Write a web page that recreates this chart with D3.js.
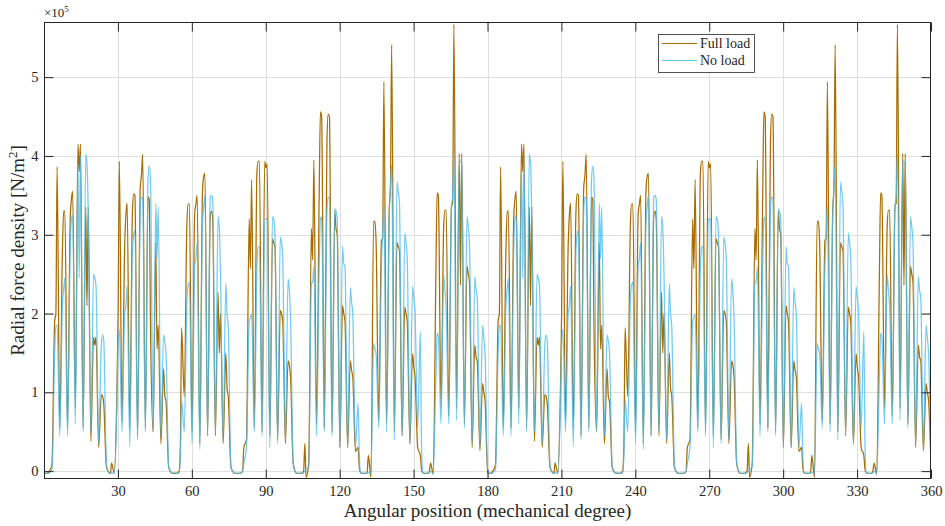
<!DOCTYPE html>
<html>
<head>
<meta charset="utf-8">
<script src="https://cdn.jsdelivr.net/npm/d3@7"></script>
<style>
  body { margin: 0; background: #fff; }
  svg { display: block; }
  text { font-family: "Liberation Serif", "DejaVu Serif", serif; fill: #262626; }
</style>
</head>
<body>
<svg id="chart" width="945" height="526"></svg>
<script>
// Axis ticks and labels
const xTicks = [30, 60, 90, 120, 150, 180, 210, 240, 270, 300, 330, 360];
const yTicks = [0, 1, 2, 3, 4, 5];
const seriesNames = ["Full load", "No load"];

// Stator slotting: 114 slots over 360 degrees, first slot centre in degrees
const slotCount = 114;
const firstSlotCenter = 1.66;

// Radial force density (x1e5 N/m^2), 4 samples per slot:
// [slot opening before the tooth, tooth left, tooth centre, tooth right]
const fullLoad = [
  -0.02,-0.03,-0.02,0.0, 0.08,1.9,2.0,3.86, 0.56,2.8,3.3,3.3, 0.55,3.2,3.45,3.55, 0.8,4.15,3.8,4.15, 0.55,3.35,2.1,3.35, 0.38,1.7,1.6,1.7, 0.3,0.97,0.95,0.85,
  0.05,-0.02,-0.03,0.1, -0.02,1.0,2.0,3.93, 0.64,2.85,3.25,3.4, 0.55,3.3,3.52,3.5, 0.45,3.6,3.75,4.02, 0.55,3.48,3.45,1.88, 0.5,2.9,1.55,1.85, 0.35,1.3,0.95,0.88,
  0.05,-0.02,-0.03,-0.03, -0.03,0.0,0.3,1.82, 0.95,3.15,3.39,3.39, 0.5,3.28,3.39,3.5, 0.35,3.55,3.74,3.78, 0.45,3.24,3.3,3.2, 0.45,2.27,1.5,2.0, 0.35,1.5,1.05,0.95,
  0.05,-0.02,-0.03,-0.03, -0.03,-0.02,0.0,0.3, 0.4,3.2,2.57,3.7, 0.55,3.8,3.93,3.93, 0.5,3.93,3.85,3.9, 0.45,2.95,2.9,2.85, 0.4,2.04,2.0,1.9, 0.35,1.4,1.35,1.2,
  0.1,-0.02,-0.03,-0.03, -0.03,0.0,0.35,-0.08, 0.1,3.08,2.68,3.95, 0.6,3.5,4.56,4.5, 0.55,4.2,4.53,4.5, 0.5,3.3,3.08,3.0, 0.3,2.1,2.0,1.9, 0.3,1.4,1.28,1.2,
  0.25,0.3,0.05,-0.02, -0.03,-0.03,-0.02,0.2, -0.08,3.17,3.17,2.9, 0.64,2.93,2.95,4.94, 0.6,3.3,3.6,5.41, 0.5,2.9,2.85,2.8, 0.45,2.08,2.0,1.9, 0.35,1.49,1.32,1.2,
  0.3,0.2,0.02,-0.02, -0.03,-0.03,0.0,0.1, -0.04,2.5,3.53,3.5, 0.8,3.1,3.31,3.31, 0.7,3.36,3.4,5.67, 0.8,4.03,2.36,4.03, 0.6,2.6,2.5,2.4, 0.3,1.6,1.45,1.4,
  0.26,1.11,1.0,0.9,
  -0.02,-0.03,-0.02,0.0, 0.08,1.9,2.0,3.86, 0.56,2.8,3.3,3.3, 0.55,3.2,3.45,3.55, 0.8,4.15,3.8,4.15, 0.55,3.35,2.1,3.35, 0.38,1.7,1.6,1.7, 0.3,0.97,0.95,0.85,
  0.05,-0.02,-0.03,0.1, -0.02,1.0,2.0,3.93, 0.64,2.85,3.25,3.4, 0.55,3.3,3.52,3.5, 0.45,3.6,3.75,4.02, 0.55,3.48,3.45,1.88, 0.5,2.9,1.55,1.85, 0.35,1.3,0.95,0.88,
  0.05,-0.02,-0.03,-0.03, -0.03,0.0,0.3,1.82, 0.95,3.15,3.39,3.39, 0.5,3.28,3.39,3.5, 0.35,3.55,3.74,3.78, 0.45,3.24,3.3,3.2, 0.45,2.27,1.5,2.0, 0.35,1.5,1.05,0.95,
  0.05,-0.02,-0.03,-0.03, -0.03,-0.02,0.0,0.3, 0.4,3.2,2.57,3.7, 0.55,3.8,3.93,3.93, 0.5,3.93,3.85,3.9, 0.45,2.95,2.9,2.85, 0.4,2.04,2.0,1.9, 0.35,1.4,1.35,1.2,
  0.1,-0.02,-0.03,-0.03, -0.03,0.0,0.35,-0.08, 0.1,3.08,2.68,3.95, 0.6,3.5,4.56,4.5, 0.55,4.2,4.53,4.5, 0.5,3.3,3.08,3.0, 0.3,2.1,2.0,1.9, 0.3,1.4,1.28,1.2,
  0.25,0.3,0.05,-0.02, -0.03,-0.03,-0.02,0.2, -0.08,3.17,3.17,2.9, 0.64,2.93,2.95,4.94, 0.6,3.3,3.6,5.41, 0.5,2.9,2.85,2.8, 0.45,2.08,2.0,1.9, 0.35,1.49,1.32,1.2,
  0.3,0.2,0.02,-0.02, -0.03,-0.03,0.0,0.1, -0.04,2.5,3.53,3.5, 0.8,3.1,3.31,3.31, 0.7,3.36,3.4,5.67, 0.8,4.03,2.36,4.03, 0.6,2.6,2.5,2.4, 0.3,1.6,1.45,1.4,
  0.26,1.11,1.0,0.9,
  -0.02
];

const noLoad = [
  -0.02,-0.03,-0.03,-0.02, 0.02,1.5,1.85,1.85, 0.45,2.1,2.3,2.45, 0.45,2.8,3.2,3.25, 0.6,3.9,2.45,4.0, 0.5,4.03,3.9,3.3, 0.5,2.5,2.45,2.35, 0.35,1.6,1.73,1.65,
  0.08,-0.02,-0.03,-0.02, -0.03,0.8,1.6,1.8, 0.5,2.0,2.1,2.35, 0.31,2.8,3.0,3.06, 0.4,3.3,3.48,3.45, 0.5,3.7,3.87,3.7, 0.5,3.4,2.7,3.35, 0.45,1.73,1.65,1.5,
  0.05,-0.02,-0.03,-0.02, -0.03,-0.02,0.2,0.9, 0.5,2.17,2.36,2.4, 0.35,2.6,2.7,2.9, 0.28,3.15,3.35,3.5, 0.45,3.48,3.5,3.45, 0.5,3.23,3.1,2.5, 0.4,2.38,2.0,1.83,
  0.05,-0.02,-0.03,-0.03, -0.03,-0.02,0.0,0.1, 0.3,1.9,1.95,2.0, 0.5,2.6,2.85,2.85, 0.45,3.2,3.2,3.19, 0.3,3.23,3.2,3.0, 0.35,2.97,2.9,2.7, 0.4,2.44,2.3,1.96,
  0.1,-0.02,-0.03,-0.03, -0.03,-0.02,0.0,0.02, 0.05,2.38,2.4,2.6, 0.45,2.6,3.2,3.23, 0.5,3.3,3.48,3.45, 0.45,3.33,3.3,3.2, 0.3,2.85,2.63,2.6, 0.3,2.33,2.15,2.0,
  0.3,0.86,0.2,-0.02, -0.03,-0.03,-0.02,-0.02, -0.02,1.62,1.55,1.49, 0.55,2.6,3.0,3.36, 0.5,3.23,3.6,3.89, 0.4,3.67,3.55,3.4, 0.45,3.02,2.9,2.7, 0.35,2.34,2.2,2.04,
  0.55,1.77,0.3,-0.02, -0.03,-0.03,-0.02,0.0, -0.03,1.2,1.75,1.7, 0.6,2.49,2.3,2.08, 0.6,3.36,3.5,4.03, 0.65,3.93,3.93,3.9, 0.55,3.23,3.1,2.9, 0.35,2.47,2.3,2.2,
  0.3,1.85,1.7,1.5,
  -0.02,-0.03,-0.03,-0.02, 0.02,1.5,1.85,1.85, 0.45,2.1,2.3,2.45, 0.45,2.8,3.2,3.25, 0.6,3.9,2.45,4.0, 0.5,4.03,3.9,3.3, 0.5,2.5,2.45,2.35, 0.35,1.6,1.73,1.65,
  0.08,-0.02,-0.03,-0.02, -0.03,0.8,1.6,1.8, 0.5,2.0,2.1,2.35, 0.31,2.8,3.0,3.06, 0.4,3.3,3.48,3.45, 0.5,3.7,3.87,3.7, 0.5,3.4,2.7,3.35, 0.45,1.73,1.65,1.5,
  0.05,-0.02,-0.03,-0.02, -0.03,-0.02,0.2,0.9, 0.5,2.17,2.36,2.4, 0.35,2.6,2.7,2.9, 0.28,3.15,3.35,3.5, 0.45,3.48,3.5,3.45, 0.5,3.23,3.1,2.5, 0.4,2.38,2.0,1.83,
  0.05,-0.02,-0.03,-0.03, -0.03,-0.02,0.0,0.1, 0.3,1.9,1.95,2.0, 0.5,2.6,2.85,2.85, 0.45,3.2,3.2,3.19, 0.3,3.23,3.2,3.0, 0.35,2.97,2.9,2.7, 0.4,2.44,2.3,1.96,
  0.1,-0.02,-0.03,-0.03, -0.03,-0.02,0.0,0.02, 0.05,2.38,2.4,2.6, 0.45,2.6,3.2,3.23, 0.5,3.3,3.48,3.45, 0.45,3.33,3.3,3.2, 0.3,2.85,2.63,2.6, 0.3,2.33,2.15,2.0,
  0.3,0.86,0.2,-0.02, -0.03,-0.03,-0.02,-0.02, -0.02,1.62,1.55,1.49, 0.55,2.6,3.0,3.36, 0.5,3.23,3.6,3.89, 0.4,3.67,3.55,3.4, 0.45,3.02,2.9,2.7, 0.35,2.34,2.2,2.04,
  0.55,1.77,0.3,-0.02, -0.03,-0.03,-0.02,0.0, -0.03,1.2,1.75,1.7, 0.6,2.49,2.3,2.08, 0.6,3.36,3.5,4.03, 0.65,3.93,3.93,3.9, 0.55,3.23,3.1,2.9, 0.35,2.47,2.3,2.2,
  0.3,1.85,1.7,1.5,
  -0.02
];

// Sample angles: slot opening, then three points across each tooth
const slotPitch = 360 / slotCount;
const sampleOffsets = [-slotPitch / 2, -0.5, 0, 0.5];
const angles = [];
for (let n = 0; n < slotCount; n++) {
  const c = firstSlotCenter + n * slotPitch;
  sampleOffsets.forEach(o => angles.push(c + o));
}
angles.push(firstSlotCenter + slotCount * slotPitch - slotPitch / 2);

const colors = { full: "#A96C00", none: "#4DBEEE" };
const axisColor = "#262626";
const fontStack = '"Liberation Serif", "DejaVu Serif", serif';

const svg = d3.select("#chart");
const plot = { left: 44, right: 931, top: 22, bottom: 479 };

const x = d3.scaleLinear().domain([0, 360]).range([plot.left, plot.right]);
const y = d3.scaleLinear().domain([-0.1, 5.7]).range([plot.bottom, plot.top]);

svg.append("rect").attr("x", 0).attr("y", 0).attr("width", 945).attr("height", 526).attr("fill", "#fff");

// Grid
const grid = svg.append("g").attr("stroke", "#dfdfdf").attr("stroke-width", 1);
grid.selectAll("line.gx").data(xTicks.filter(t => t < 360)).join("line")
  .attr("x1", d => Math.round(x(d)) + 0.5).attr("x2", d => Math.round(x(d)) + 0.5)
  .attr("y1", plot.top).attr("y2", plot.bottom);
grid.selectAll("line.gy").data(yTicks).join("line")
  .attr("y1", d => Math.round(y(d)) + 0.5).attr("y2", d => Math.round(y(d)) + 0.5)
  .attr("x1", plot.left).attr("x2", plot.right);

// Curves
svg.append("clipPath").attr("id", "plotClip").append("rect")
  .attr("x", plot.left).attr("y", plot.top)
  .attr("width", plot.right - plot.left).attr("height", plot.bottom - plot.top);

const line = d3.line()
  .x((d, i) => x(angles[i]))
  .y(d => y(d))
  .curve(d3.curveMonotoneX);

const curves = svg.append("g").attr("clip-path", "url(#plotClip)").attr("fill", "none");
curves.append("path").datum(fullLoad).attr("d", line)
  .attr("stroke", colors.full).attr("stroke-width", 1.25).attr("stroke-linejoin", "round");
curves.append("path").datum(noLoad).attr("d", line)
  .attr("stroke", colors.none).attr("stroke-width", 1.25).attr("stroke-opacity", 0.8).attr("stroke-linejoin", "round");

// Axes box with inward ticks on all four sides
const tickLen = 9;
const axes = svg.append("g").attr("stroke", axisColor).attr("stroke-width", 1).attr("fill", "none");
axes.append("rect").attr("x", plot.left + 0.5).attr("y", plot.top + 0.5)
  .attr("width", plot.right - plot.left - 1).attr("height", plot.bottom - plot.top - 1);

const xAxisBottom = d3.axisBottom(x).tickValues(xTicks).tickSizeInner(-tickLen).tickSizeOuter(0).tickPadding(7);
const gxb = svg.append("g").attr("transform", `translate(0,${plot.bottom - 0.5})`).call(xAxisBottom);
const xAxisTop = d3.axisTop(x).tickValues(xTicks).tickSizeInner(-tickLen).tickSizeOuter(0).tickFormat("");
const gxt = svg.append("g").attr("transform", `translate(0,${plot.top + 0.5})`).call(xAxisTop);
const yAxisLeft = d3.axisLeft(y).tickValues(yTicks).tickSizeInner(-tickLen).tickSizeOuter(0).tickPadding(6).tickFormat(d3.format("d"));
const gyl = svg.append("g").attr("transform", `translate(${plot.left + 0.5},0)`).call(yAxisLeft);
const yAxisRight = d3.axisRight(y).tickValues(yTicks).tickSizeInner(-tickLen).tickSizeOuter(0).tickFormat("");
const gyr = svg.append("g").attr("transform", `translate(${plot.right - 0.5},0)`).call(yAxisRight);

[gxb, gxt, gyl, gyr].forEach(g => {
  g.select(".domain").remove();
  g.selectAll(".tick line").attr("stroke", axisColor);
  g.selectAll(".tick text").attr("fill", axisColor)
    .style("font-family", fontStack).style("font-size", "14.5px");
});

// Exponent label
const expo = svg.append("text").attr("x", 44).attr("y", 17).style("font-size", "13px");
expo.append("tspan").text("\u00d710");
expo.append("tspan").attr("dy", -5).style("font-size", "9px").text("5");

// Axis titles
svg.append("text").attr("x", (plot.left + plot.right) / 2).attr("y", 517)
  .attr("text-anchor", "middle").style("font-size", "19px")
  .text("Angular position (mechanical degree)");

const yl = svg.append("text")
  .attr("transform", `translate(24,${(plot.top + plot.bottom) / 2}) rotate(-90)`)
  .attr("text-anchor", "middle").style("font-size", "19px");
yl.append("tspan").text("Radial force density [N/m");
yl.append("tspan").attr("dy", -7).style("font-size", "13px").text("2");
yl.append("tspan").attr("dy", 7).text("]");

// Legend
const legend = svg.append("g");
legend.append("rect").attr("x", 658.5).attr("y", 34.5).attr("width", 96).attr("height", 38)
  .attr("fill", "#fff").attr("stroke", axisColor).attr("stroke-width", 0.8);
const legendRows = [
  { name: seriesNames[0], color: colors.full, opacity: 1, y: 43.5 },
  { name: seriesNames[1], color: colors.none, opacity: 0.9, y: 60.5 }
];
legendRows.forEach(r => {
  legend.append("line").attr("x1", 662).attr("x2", 697).attr("y1", r.y).attr("y2", r.y)
    .attr("stroke", r.color).attr("stroke-width", 1.1).attr("stroke-opacity", r.opacity);
  legend.append("text").attr("x", 700).attr("y", r.y + 4.5).style("font-size", "14px").text(r.name);
});
</script>
</body>
</html>
